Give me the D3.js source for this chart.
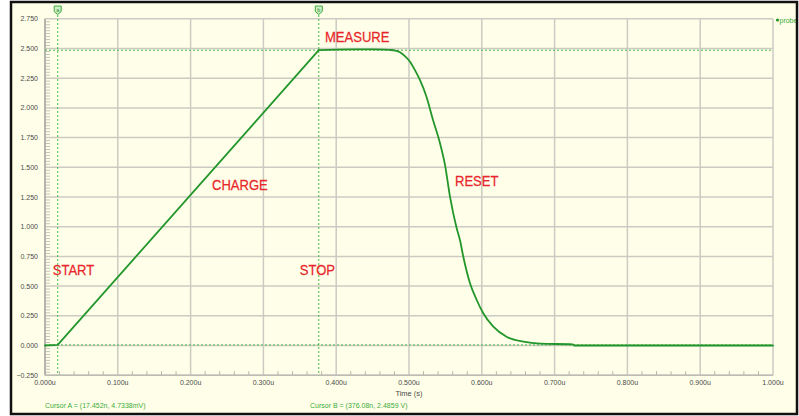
<!DOCTYPE html>
<html>
<head>
<meta charset="utf-8">
<script src="https://cdn.jsdelivr.net/npm/d3@7"></script>
<style>
  html, body { margin: 0; padding: 0; background: #ffffff; }
  svg { display: block; }
</style>
</head>
<body>
<svg id="chart" width="799" height="416"></svg>
<script>
// Transient analysis: probe voltage versus time
const xTicks = [0, 0.1, 0.2, 0.3, 0.4, 0.5, 0.6, 0.7, 0.8, 0.9, 1.0];
const yTicks = [-0.25, 0, 0.25, 0.5, 0.75, 1.0, 1.25, 1.5, 1.75, 2.0, 2.25, 2.5, 2.75];

// time in microseconds
const waveT = [0, 0.01745, 0.37608, 0.40, 0.44, 0.465, 0.474, 0.481, 0.4876, 0.494, 0.5014, 0.508,
               0.515, 0.524, 0.533, 0.5426, 0.5495, 0.5563, 0.5655, 0.570, 0.5746, 0.5838,
               0.593, 0.602, 0.6158, 0.634, 0.657, 0.680, 0.725, 0.727, 1.0];
// voltage in volts
const waveV = [0, 0.0047, 2.4859, 2.490, 2.492, 2.491, 2.488, 2.482, 2.468, 2.438, 2.389, 2.320,
               2.235, 2.094, 1.898, 1.702, 1.519, 1.253, 0.987, 0.888, 0.747, 0.524,
               0.383, 0.271, 0.158, 0.074, 0.032, 0.015, 0.010, 0.0, 0.0];
// index where the linear charge ramp ends and the hold/reset begins
const rampEnd = 2;

const cursorNames = ["A", "B"];
const cursorT = [0.017452, 0.37608];
const cursorV = [0.0047338, 2.4859];
const cursorText = ["Cursor A = (17.452n, 4.7338mV)", "Cursor B = (376.08n, 2.4859 V)"];

const noteText = ["START", "STOP", "CHARGE", "MEASURE", "RESET"];
const noteT = [0.0106, 0.350, 0.2294, 0.3846, 0.5632];
const noteV = [0.593, 0.593, 1.309, 2.557, 1.343];

const svg = d3.select("#chart");

const x = d3.scaleLinear().domain([0, 1]).range([45, 773]);
const y = d3.scaleLinear().domain([-0.25, 2.75]).range([375.2, 18.8]);

const gridCol = "#cbcbc3";
const labelCol = "#4a4a4a";
const traceCol = "#23962b";
const cursorCol = "#4cb84c";
const font = "'Liberation Sans', Arial, sans-serif";

// panel clip
svg.append("defs").append("clipPath").attr("id", "panel")
  .append("rect").attr("x", 11).attr("y", 2).attr("width", 786).attr("height", 412);

// panel background
svg.append("rect").attr("x", 11).attr("y", 2).attr("width", 786).attr("height", 412)
  .attr("fill", "#ffffe9");

const g = svg.append("g").attr("clip-path", "url(#panel)");

// major grid
g.append("g").selectAll("line").data(xTicks).join("line")
  .attr("x1", d => x(d)).attr("x2", d => x(d))
  .attr("y1", y(2.75)).attr("y2", y(-0.25))
  .attr("stroke", gridCol).attr("stroke-width", 1.5);
g.append("g").selectAll("line").data(yTicks).join("line")
  .attr("x1", x(0)).attr("x2", x(1))
  .attr("y1", d => y(d)).attr("y2", d => y(d))
  .attr("stroke", gridCol).attr("stroke-width", 1.5);

// minor ticks on the axes
const xMinor = d3.range(0, 50).map(i => i * 0.02).filter((d, i) => i % 5 !== 0);
g.append("g").selectAll("line").data(xMinor).join("line")
  .attr("x1", d => x(d)).attr("x2", d => x(d))
  .attr("y1", y(-0.25)).attr("y2", y(-0.25) - 4)
  .attr("stroke", "#b5b5ad").attr("stroke-width", 1);
const yMinor = d3.range(0, 120).map(i => -0.25 + i * 0.025).filter((d, i) => i % 10 !== 0);
g.append("g").selectAll("line").data(yMinor).join("line")
  .attr("x1", x(0)).attr("x2", x(0) + 5)
  .attr("y1", d => y(d)).attr("y2", d => y(d))
  .attr("stroke", "#c4c4bc").attr("stroke-width", 1);

// axis lines
g.append("line").attr("x1", x(0)).attr("x2", x(0)).attr("y1", y(2.75)).attr("y2", y(-0.25))
  .attr("stroke", "#aaaaa2").attr("stroke-width", 1.5);
g.append("line").attr("x1", x(0)).attr("x2", x(1)).attr("y1", y(-0.25)).attr("y2", y(-0.25))
  .attr("stroke", "#bcbcb4").attr("stroke-width", 1.5);

// tick labels
g.append("g").selectAll("text").data(xTicks).join("text")
  .attr("x", d => x(d)).attr("y", 385)
  .attr("text-anchor", "middle")
  .attr("font-family", font).attr("font-size", 7).attr("fill", labelCol)
  .text(d => d3.format(".3f")(d) + "u");
g.append("g").selectAll("text").data(yTicks).join("text")
  .attr("x", 38).attr("y", d => y(d) + 2.5)
  .attr("text-anchor", "end")
  .attr("font-family", font).attr("font-size", 7).attr("fill", labelCol)
  .text(d => d3.format(".3f")(d));

g.append("text").attr("x", x(0.5)).attr("y", 396)
  .attr("text-anchor", "middle")
  .attr("font-family", font).attr("font-size", 7.5).attr("fill", labelCol)
  .text("Time (s)");

// cursors
const cur = g.append("g");
cursorT.forEach((t, i) => {
  cur.append("line")
    .attr("x1", x(t)).attr("x2", x(t)).attr("y1", 15).attr("y2", y(-0.25))
    .attr("stroke", cursorCol).attr("stroke-width", 1).attr("stroke-dasharray", "2,2");
  cur.append("line")
    .attr("x1", x(0)).attr("x2", x(1)).attr("y1", y(cursorV[i])).attr("y2", y(cursorV[i]))
    .attr("stroke", cursorCol).attr("stroke-width", 1).attr("stroke-dasharray", "2,2");
  const cx = x(t);
  cur.append("path")
    .attr("d", `M${cx - 3.5},6 h7 v5.5 l-3.5,3 l-3.5,-3 z`)
    .attr("fill", "#cdeec6").attr("stroke", "#3fa83f").attr("stroke-width", 1);
  cur.append("text").attr("x", cx).attr("y", 12)
    .attr("text-anchor", "middle")
    .attr("font-family", font).attr("font-size", 5.5).attr("fill", "#2f8f2f")
    .text(cursorNames[i].toLowerCase());
});

// waveform: straight charge ramp, smooth hold and reset decay
const pts = waveT.map((t, i) => [t, waveV[i]]);
const ramp = pts.slice(0, rampEnd + 1);
const decay = pts.slice(rampEnd);
g.append("path")
  .datum(ramp)
  .attr("d", d3.line().x(d => x(d[0])).y(d => y(d[1])).curve(d3.curveLinear))
  .attr("fill", "none").attr("stroke", traceCol).attr("stroke-width", 1.8)
  .attr("stroke-linejoin", "round").attr("stroke-linecap", "round");
g.append("path")
  .datum(decay)
  .attr("d", d3.line().x(d => x(d[0])).y(d => y(d[1])).curve(d3.curveMonotoneX))
  .attr("fill", "none").attr("stroke", traceCol).attr("stroke-width", 1.8)
  .attr("stroke-linejoin", "round").attr("stroke-linecap", "round");

// phase annotations
g.append("g").selectAll("text").data(noteText).join("text")
  .attr("transform", (d, i) => `translate(${x(noteT[i])},${y(noteV[i])}) scale(0.87,1)`)
  .attr("font-family", font).attr("font-size", 15).attr("fill", "#e8262b")
  .attr("stroke", "#e8262b").attr("stroke-width", 0.25)
  .text(d => d);

// cursor readouts
const readX = [x(0), 310];
g.append("g").selectAll("text").data(cursorText).join("text")
  .attr("x", (d, i) => readX[i]).attr("y", 408)
  .attr("font-family", font).attr("font-size", 7).attr("fill", "#3aab3a")
  .text(d => d);

// legend
g.append("circle").attr("cx", 777.5).attr("cy", 20).attr("r", 1.6).attr("fill", traceCol);
g.append("text").attr("x", 779.5).attr("y", 22.5)
  .attr("font-family", font).attr("font-size", 7).attr("fill", "#3aab3a")
  .text("probe");

// panel frame
svg.append("rect").attr("x", 11).attr("y", 2).attr("width", 786).attr("height", 412)
  .attr("fill", "none").attr("stroke", "#111").attr("stroke-width", 2.5);
</script>
</body>
</html>
